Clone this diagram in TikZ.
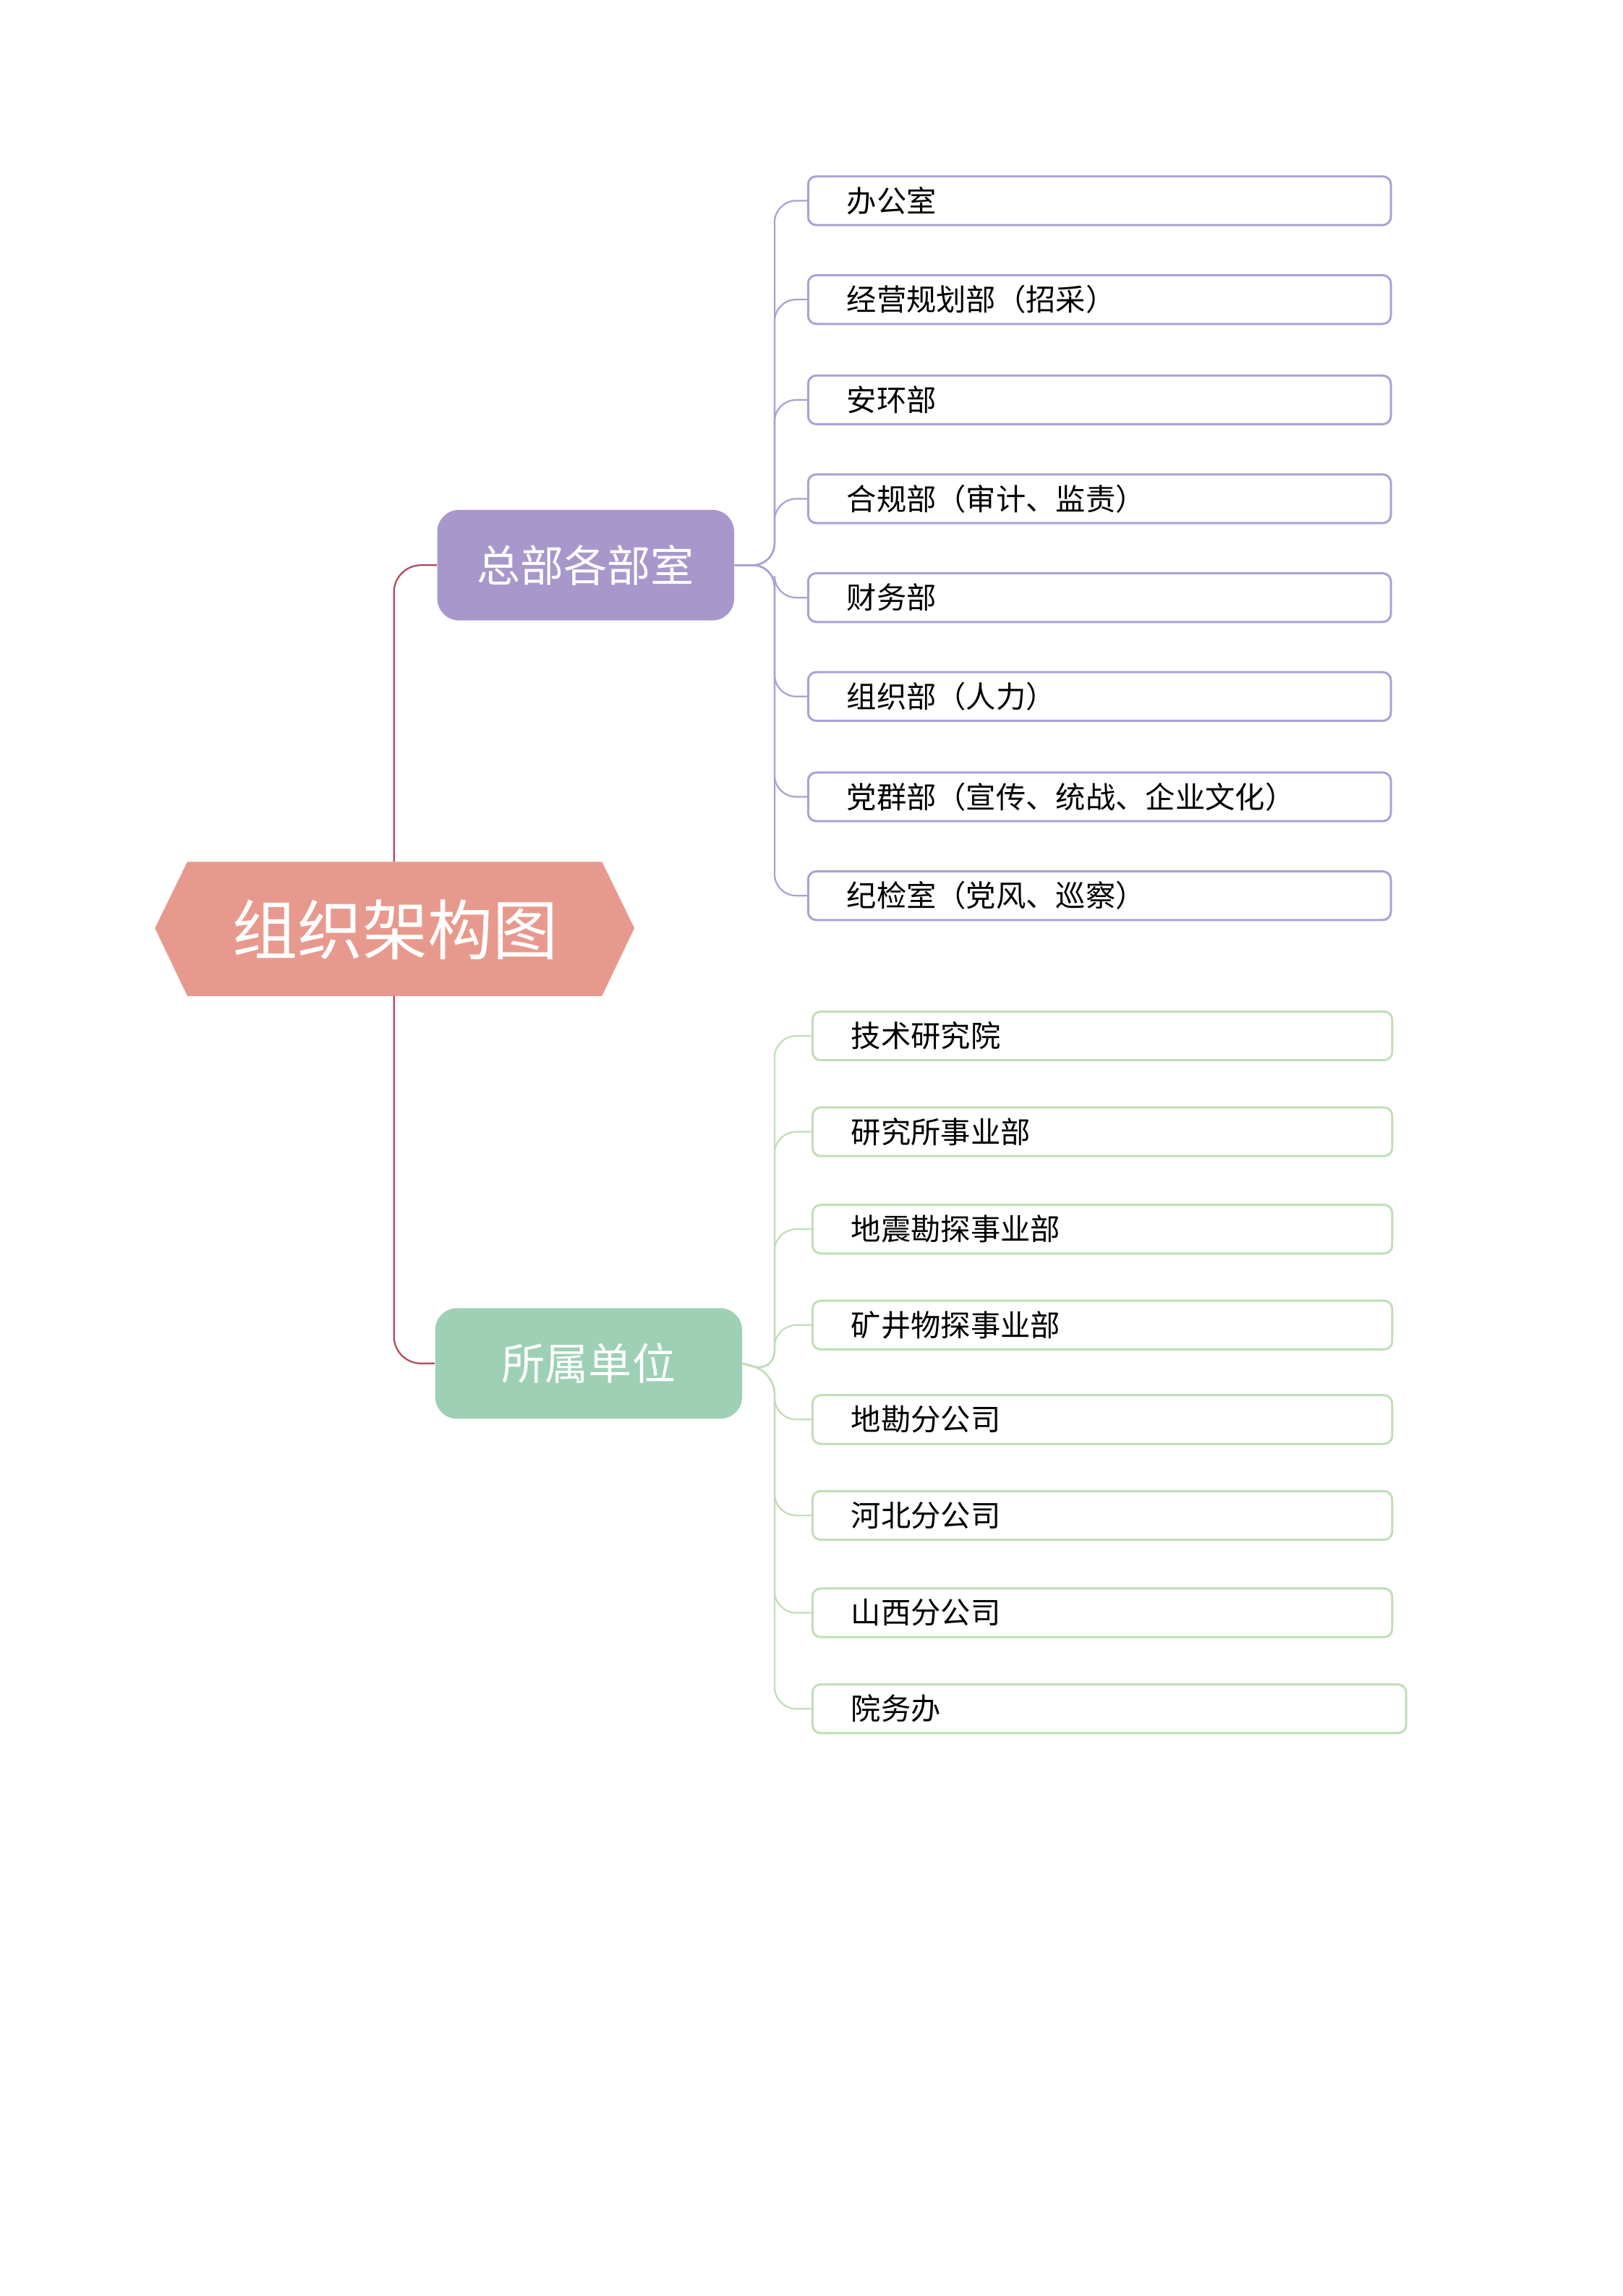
\documentclass[tikz,border=0pt]{standalone}
\usepackage{fontspec}
\setmainfont{Noto Sans CJK SC}
\usetikzlibrary{positioning}
\definecolor{rootred}{HTML}{E8998D}
\definecolor{rootline}{HTML}{B5475C}
\definecolor{hqpurple}{HTML}{A897CB}
\definecolor{hqline}{HTML}{A9A2D6}
\definecolor{subgreen}{HTML}{9DD0B5}
\definecolor{subline}{HTML}{C2DDB8}
\tikzset{
        % Branch nodes
        node_branch/.style={rounded corners=8pt, text=white, font=\fontsize{16}{18}\selectfont, minimum height=1.43cm, inner sep=0pt},
        % Leaf boxes
        node_leaf/.style={rectangle, rounded corners=3pt, line width=0.8pt, fill=white, minimum height=0.63cm, inner sep=0pt, font=\fontsize{11}{13}\selectfont, anchor=west}
}
\begin{document}
\begin{tikzpicture}[x=0.01909cm, y=-0.01909cm]
    \useasboundingbox (0,0) rectangle (1100,1556);
    % root
    \fill[rootred] (105,629) -- (127,584) -- (408,584) -- (430,629) -- (408,675) -- (127,675) -- cycle;
    \node[text=white, font=\fontsize{24}{28}\selectfont] (root) at (268,630) {组织架构图};
    \coordinate (roottop) at (267,584);
    \coordinate (rootbot) at (267,675);
    % branches
    \node[node_branch, fill=hqpurple, minimum width=3.84cm] (hq) at (397,383) {总部各部室};
    \node[node_branch, fill=subgreen, minimum width=3.97cm] (sub) at (399,924) {所属单位};
    \draw[rootline, rounded corners=10pt, line width=0.6pt] (roottop) |- (hq.west);
    \draw[rootline, rounded corners=10pt, line width=0.6pt] (rootbot) |- (sub.west);
    % headquarter departments
    \coordinate (hqfork) at (525,383);
    \foreach \i/\yy/\txt in {1/136/办公室, 2/203/经营规划部（招采）, 3/271/安环部, 4/338/合规部（审计、监责）, 5/405/财务部, 6/472/组织部（人力）, 7/540/党群部（宣传、统战、企业文化）, 8/607/纪检室（党风、巡察）}{
        \node[node_leaf, draw=hqline, minimum width=7.54cm, text width=7.54cm] (hq\i) at (547,\yy) {\hspace{0.5cm}\txt};
        \draw[hqline, rounded corners=8pt, line width=0.6pt] (hq.east) -- (hqfork) |- (hq\i.west);
    }
    % subordinate units
    \coordinate (subfork) at (525,930);
    \foreach \i/\yy/\w/\txt in {1/702/7.5/技术研究院, 2/767/7.5/研究所事业部, 3/833/7.5/地震勘探事业部, 4/898/7.5/矿井物探事业部, 5/962/7.5/地勘分公司, 6/1027/7.5/河北分公司, 7/1093/7.5/山西分公司, 8/1158/7.68/院务办}{
        \node[node_leaf, draw=subline, minimum width=\w cm, text width=\w cm] (sub\i) at (550,\yy) {\hspace{0.5cm}\txt};
        \draw[subline, rounded corners=8pt, line width=0.6pt] (sub.east) -- (subfork) |- (sub\i.west);
    }
\end{tikzpicture}
\end{document}
